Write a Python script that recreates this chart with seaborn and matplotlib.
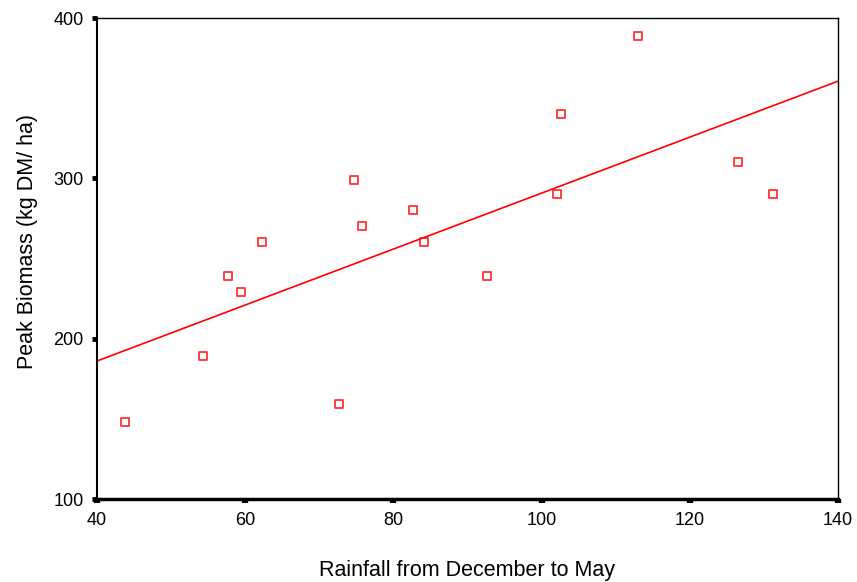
import matplotlib
matplotlib.use("Agg")
import matplotlib.pyplot as plt
import seaborn as sns
import pandas as pd

# --- Data ---
rainfall = [43.8, 54.3, 57.7, 59.4, 62.3, 72.7, 74.7, 75.8, 82.6, 84.1,
            92.6, 102.1, 102.6, 113.0, 126.5, 131.2]
biomass = [148, 189, 239, 229, 260, 159, 299, 270, 280, 260,
           239, 290, 340, 389, 310, 290]

df = pd.DataFrame({"Rainfall": rainfall, "Biomass": biomass})

sns.set_theme(style="white")
plt.rcParams["font.family"] = ["Liberation Sans", "DejaVu Sans"]

fig = plt.figure(figsize=(8.57, 5.82), dpi=100)
ax = fig.add_axes([0.1132, 0.1426, 0.8646, 0.8264])
ax.set_xlim(40, 140)
ax.set_ylim(100, 400)

sns.regplot(
    data=df, x="Rainfall", y="Biomass", ax=ax, ci=None, truncate=False,
    marker="s",
    scatter_kws={"s": 30, "facecolors": "white", "edgecolors": "red",
                 "linewidths": 1.3},
    line_kws={"color": "red", "linewidth": 1.2},
)
ax.set_xlim(40, 140)
ax.set_ylim(100, 400)

ax.set_xticks([40, 60, 80, 100, 120, 140])
ax.set_yticks([100, 200, 300, 400])
ax.tick_params(axis="x", bottom=True, direction="out", length=3, width=4.5,
               color="black", labelsize=13, labelcolor="black", pad=6)
ax.tick_params(axis="y", left=True, direction="out", length=3.5, width=3.5,
               color="black", labelsize=13, labelcolor="black", pad=6)

for side in ["top", "right"]:
    ax.spines[side].set_color("black")
    ax.spines[side].set_linewidth(1.0)
ax.spines["left"].set_color("black")
ax.spines["left"].set_linewidth(1.5)
ax.spines["bottom"].set_color("black")
ax.spines["bottom"].set_linewidth(2.5)

ax.set_xlabel("Rainfall from December to May", fontsize=15.5, color="black")
ax.set_ylabel("Peak Biomass (kg DM/ ha)", fontsize=15.5, color="black")
ax.xaxis.set_label_coords(0.5, -0.127)
ax.yaxis.set_label_coords(-0.08, 0.536)

fig.savefig("out.png", dpi=100)
